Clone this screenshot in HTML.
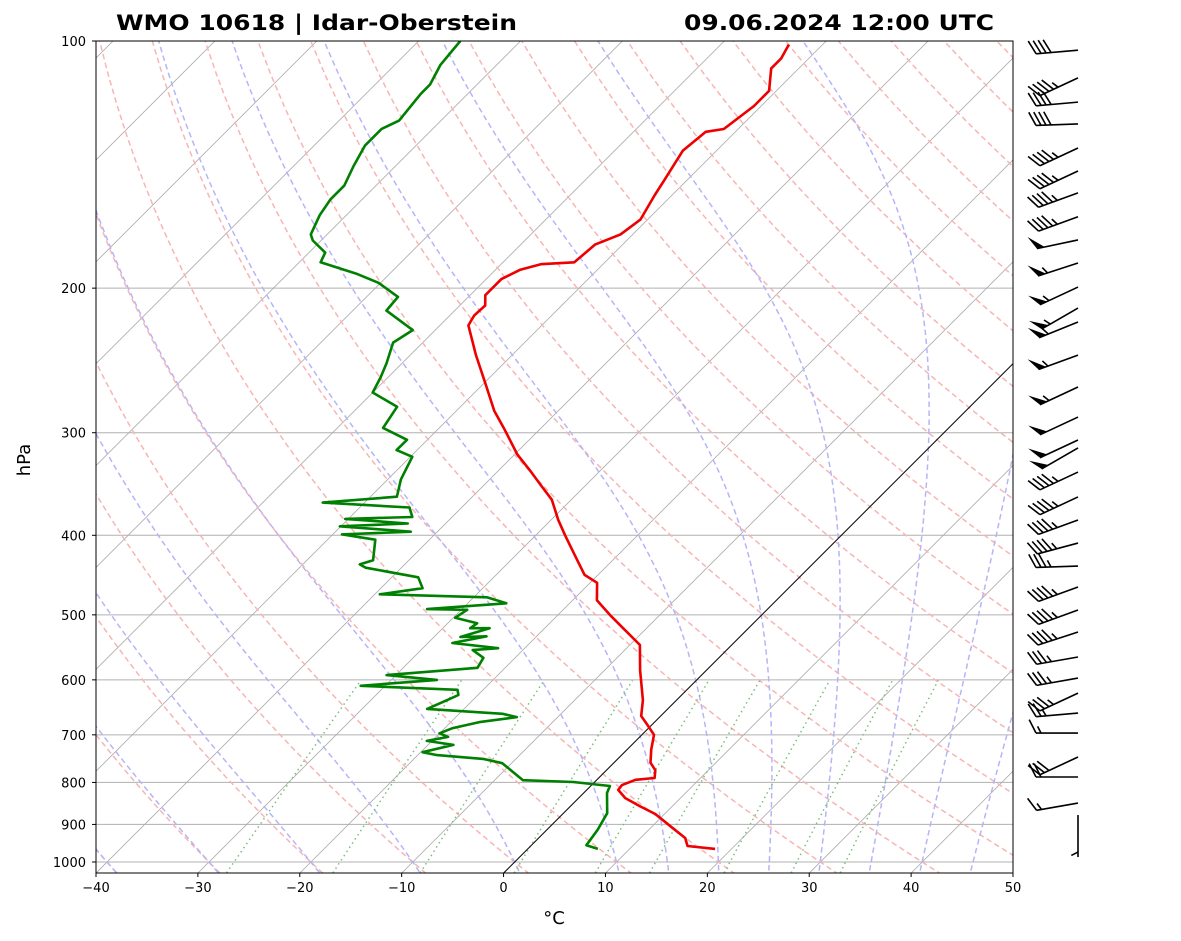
<!DOCTYPE html>
<html><head><meta charset="utf-8"><style>
body{margin:0;background:#fff;}
svg{display:block;font-family:"DejaVu Sans","Liberation Sans",sans-serif;}
</style></head><body>
<svg id="chart" width="1181" height="941" xmlns="http://www.w3.org/2000/svg">
<defs><clipPath id="clip"><rect x="96" y="41" width="917" height="832"/></clipPath></defs>
<rect x="0" y="0" width="1181" height="941" fill="#fff"/>
<g id="bg" clip-path="url(#clip)"></g>
<g id="prof" clip-path="url(#clip)"></g>
<rect x="96" y="41" width="917" height="832" fill="none" stroke="#000" stroke-width="1"/>
<g id="axes"></g>
<g id="barbs"></g>
<text x="116" y="30" font-size="21" font-weight="bold" textLength="401" lengthAdjust="spacingAndGlyphs">WMO 10618 | Idar-Oberstein</text>
<text x="684" y="30" font-size="21" font-weight="bold" textLength="310" lengthAdjust="spacingAndGlyphs">09.06.2024 12:00 UTC</text>
<text x="554" y="924" font-size="18" text-anchor="middle">°C</text>
<text x="30" y="460" font-size="18" text-anchor="middle" transform="rotate(-90 30 460)">hPa</text>
</svg>
<script>
const tempP = [964,956,935,907,874,855,836,817,806,794,790,773,757,730,700,681,664,635,584,544,522,500,480,457,447,423,400,383,362,347,333,319,298,282,262,241,222,216,210,204,195,190,187,186,177,172,165,154,148,136,129,128,120,115,108,105,101];
const tempT = [18.4,15.4,14.4,12.0,9.1,6.8,4.6,3.1,3.0,3.8,5.5,4.8,3.6,2.4,1.2,-0.4,-1.9,-3.3,-6.5,-9.0,-11.9,-14.9,-17.6,-19.3,-21.3,-24.2,-27.1,-29.3,-31.9,-34.5,-37.0,-39.7,-43.3,-46.3,-49.7,-53.6,-57.2,-57.6,-57.5,-58.5,-58.5,-57.6,-56.1,-53.0,-52.7,-51.2,-50.7,-51.7,-52.2,-53.3,-52.9,-51.4,-50.7,-50.7,-52.7,-52.7,-53.3];
const dewP = [964,954,914,872,824,808,799,795,758,749,741,735,720,712,704,697,687,675,666,660,651,635,626,617,610,600,592,580,564,552,549,541,531,532,519,519,512,504,493,492,484,476,472,464,450,438,434,429,405,399,396,390,387,382,380,370,365,359,342,321,315,306,296,279,268,257,247,233,225,213,205,197,192,186,181,175,172,163,156,150,142,134,128,125,116,113,107,100];
const dewT = [6.9,5.4,5.0,4.3,2.3,1.9,-2.1,-7.2,-10.9,-13.2,-18.1,-19.8,-17.5,-20.5,-18.8,-20.0,-19.2,-17.1,-14.0,-15.7,-23.6,-22.5,-21.9,-22.5,-32.4,-25.5,-30.9,-22.7,-23.1,-24.9,-22.6,-27.6,-24.9,-27.4,-25.4,-27.3,-27.1,-29.8,-29.4,-33.4,-26.2,-28.7,-39.5,-35.9,-37.4,-43.5,-44.4,-43.5,-45.3,-49.1,-42.6,-50.1,-43.7,-50.3,-43.9,-45.1,-54.1,-47.4,-48.7,-49.8,-52.0,-52.0,-55.5,-56.2,-60.0,-60.7,-61.5,-62.9,-62.2,-66.7,-66.9,-70.2,-73.3,-77.9,-78.4,-80.8,-81.6,-82.6,-83.1,-83.1,-84.1,-85.0,-85.0,-84.1,-84.6,-84.6,-85.5,-85.9];
const barbP = [102.6,110.9,118.7,126.2,135.0,144.0,153.1,163.7,174.7,186.4,199.4,211.5,219.9,241.3,263.9,287.1,306.2,313.1,335.0,359.2,383.2,408.8,436.0,462.4,493.2,524.7,562.7,597.0,622.7,658.5,696.5,744.9,787.9,847.6,876.6];
const barbSpd = [40,45,40,40,45,45,45,45,50,55,55,55,55,55,55,50,50,50,45,45,45,45,35,45,45,45,35,35,35,25,15,30,20,15,5];
const barbDir = [265,245,265,268,245,245,250,250,258,252,245,240,248,250,245,245,245,240,245,245,250,255,268,250,250,252,260,260,245,265,270,245,270,260,180];
const yTicks = [100,200,300,400,500,600,700,800,900,1000];
const xTicks = [-40,-30,-20,-10,0,10,20,30,40,50];
const dryT0 = [-40,-30,-20,-10,0,10,20,30,40,50,60,70,80,90,100,110,120,130,140,150,160,170,180,190,200];
const moistT0 = [-50,-40,-30,-20,-10,0,10,15,20,25,30,35,40,45];
const mixW = [0.0004,0.001,0.002,0.004,0.007,0.01,0.016,0.024,0.032];

const NS='http://www.w3.org/2000/svg';
const PX=917/90;
function yP(p){return 41+821*Math.log10(p/100);}
function xT(T,p){return 96+(T+40)*PX+(873-yP(p));}
function mk(tag,attrs,parent){const e=document.createElementNS(NS,tag);for(const k in attrs)e.setAttribute(k,attrs[k]);parent.appendChild(e);return e;}
function pathD(pts){return pts.map((q,i)=>(i?'L':'M')+q[0].toFixed(1)+' '+q[1].toFixed(1)).join(' ');}
const bg=document.getElementById('bg'),prof=document.getElementById('prof'),axes=document.getElementById('axes'),barbs=document.getElementById('barbs');

yTicks.forEach(p=>{const l=mk('line',{x1:96,x2:1013,y1:yP(p),y2:yP(p),stroke:'#b0b0b0','stroke-width':1},bg);

});
for(let T=-150;T<=50;T+=10){const l=mk('line',{x1:xT(T,1031),y1:873,x2:xT(T,1031)+832,y2:41,stroke:'#a8a8a8','stroke-width':0.8},bg);

}
dryT0.forEach(t0=>{const pts=[];for(let p=1050;p>=100;p-=10){const T=(t0+273.15)*Math.pow(p/1000,0.2857)-273.15;pts.push([xT(T,p),yP(p)]);}
const e=mk('path',{d:pathD(pts),fill:'none',stroke:'#f7b5b5','stroke-width':1.5,'stroke-dasharray':'5.5,3.5'},bg);

});
const Rd=287.04,Cp=1005.7,Lv=2.501e6,eps=0.622;
function dTdp(p,T){const Tc=T-273.15;const es=6.112*Math.exp(17.67*Tc/(Tc+243.5));const rs=eps*es/(p-es);return (1/p)*(Rd*T+Lv*rs)/(Cp+(Lv*Lv*rs*eps/(Rd*T*T)));}
function integ(T,p0,p1,h){const pts=[[p0,T]];let p=p0;const n=Math.round(Math.abs(p1-p0)/h);const dh=(p1-p0)/n;
for(let i=0;i<n;i++){const k1=dTdp(p,T),k2=dTdp(p+dh/2,T+dh/2*k1),k3=dTdp(p+dh/2,T+dh/2*k2),k4=dTdp(p+dh,T+dh*k3);T+=dh/6*(k1+2*k2+2*k3+k4);p+=dh;pts.push([p,T]);}return pts;}
moistT0.forEach(t0=>{const up=integ(t0+273.15,1000,100,5);const dn=integ(t0+273.15,1000,1050,5);
const all=dn.reverse().concat(up.slice(1));const pts=all.map(a=>[xT(a[1]-273.15,a[0]),yP(a[0])]);
const e=mk('path',{d:pathD(pts),fill:'none',stroke:'#b5b5f7','stroke-width':1.5,'stroke-dasharray':'5.5,3.5'},bg);

});
mixW.forEach(w=>{const pts=[];for(let p=1031;p>=600;p-=5){const e=p*w/(eps+w);const L=Math.log(e/6.112);const Td=243.5*L/(17.67-L);pts.push([xT(Td,p),yP(p)]);}
const e=mk('path',{d:pathD(pts),fill:'none',stroke:'#7cbf7c','stroke-width':1.5,'stroke-dasharray':'1.5,3.5'},bg);

});
const zl=mk('line',{x1:xT(0,1031),y1:873,x2:xT(0,1031)+832,y2:41,stroke:'#000','stroke-width':1},bg);


const tp=mk('path',{d:pathD(tempP.map((p,i)=>[xT(tempT[i],p),yP(p)])),fill:'none',stroke:'#ee0000','stroke-width':2.6,'stroke-linejoin':'round'},prof);


const dp=mk('path',{d:pathD(dewP.map((p,i)=>[xT(dewT[i],p),yP(p)])),fill:'none',stroke:'#008000','stroke-width':2.6,'stroke-linejoin':'round'},prof);


yTicks.forEach(p=>{const y=yP(p);mk('line',{x1:92,x2:96,y1:y,y2:y,stroke:'#000','stroke-width':1},axes);
const t=mk('text',{x:86,y:y+5,'font-size':13,'text-anchor':'end'},axes);t.textContent=String(p);

});
xTicks.forEach(T=>{const x=96+(T+40)*PX;mk('line',{x1:x,x2:x,y1:873,y2:877,stroke:'#000','stroke-width':1},axes);
const t=mk('text',{x:x,y:892,'font-size':13,'text-anchor':'middle'},axes);t.textContent=(T<0?'\u2212':'')+Math.abs(T);

});
const AX=1078,SL=42;
barbP.forEach((p,i)=>{const g=mk('g',{},barbs);


const ay=yP(p),d=barbDir[i]*Math.PI/180;const ux=Math.sin(d),uy=-Math.cos(d);
const th=63*Math.PI/180;const fx=ux*Math.cos(th)-uy*Math.sin(th),fy=ux*Math.sin(th)+uy*Math.cos(th);
const tx=AX+ux*SL,ty=ay+uy*SL;
mk('line',{x1:AX,y1:ay,x2:tx,y2:ty,stroke:'#000','stroke-width':1.6},g);
let s=Math.round(barbSpd[i]/5)*5,pos=0;
while(s>=50){const bx=tx-ux*pos,by=ty-uy*pos;const cx=tx-ux*(pos+8),cy=ty-uy*(pos+8);
mk('polygon',{points:`${bx},${by} ${bx+fx*15},${by+fy*15} ${cx},${cy}`,fill:'#000'},g);pos+=10;s-=50;}
while(s>=10){const bx=tx-ux*pos,by=ty-uy*pos;mk('line',{x1:bx,y1:by,x2:bx+fx*15,y2:by+fy*15,stroke:'#000','stroke-width':1.6},g);pos+=5;s-=10;}
if(s>=5){if(pos===0)pos=5;const bx=tx-ux*pos,by=ty-uy*pos;mk('line',{x1:bx,y1:by,x2:bx+fx*7.5,y2:by+fy*7.5,stroke:'#000','stroke-width':1.6},g);}
});
</script>
</body></html>
